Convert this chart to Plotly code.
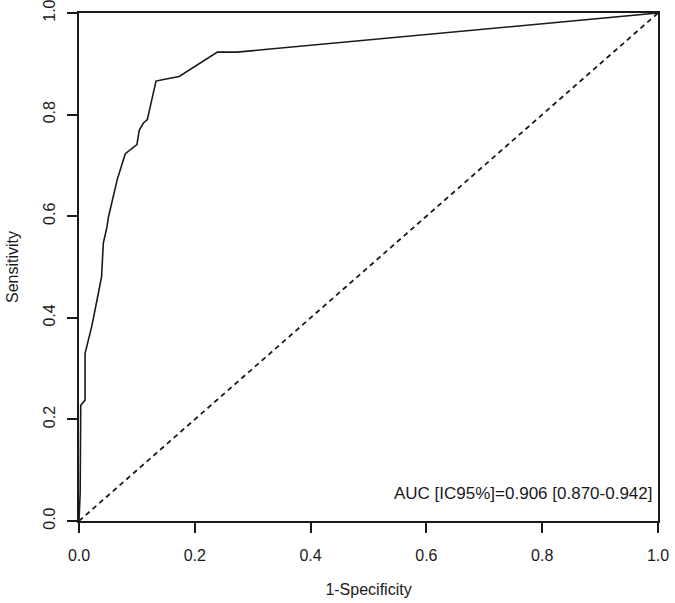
import plotly.graph_objects as go

# ROC curve points (1-Specificity, Sensitivity)
fpr = [0.0, 0.002, 0.003, 0.006, 0.0105, 0.0105, 0.022, 0.032, 0.039, 0.042, 0.048,
       0.051, 0.061, 0.066, 0.080, 0.100, 0.104, 0.111, 0.118, 0.133, 0.146,
       0.173, 0.239, 0.273, 1.0]
tpr = [0.0, 0.055, 0.228, 0.233, 0.238, 0.330, 0.383, 0.440, 0.481, 0.547, 0.577,
       0.599, 0.647, 0.672, 0.723, 0.741, 0.769, 0.783, 0.790, 0.866, 0.869,
       0.875, 0.923, 0.923, 1.0]
diag_x = [0.0, 1.0]
diag_y = [0.0, 1.0]
tick_vals = [0.0, 0.2, 0.4, 0.6, 0.8, 1.0]
tick_text = ["0.0", "0.2", "0.4", "0.6", "0.8", "1.0"]
auc_label = "AUC [IC95%]=0.906 [0.870-0.942]"

ink = "#1a1a1a"
font = "Liberation Sans, Arial, sans-serif"

fig = go.Figure()
fig.add_trace(go.Scatter(x=diag_x, y=diag_y, mode="lines",
                         line=dict(color=ink, width=1.8, dash="5px,4px"),
                         showlegend=False, hoverinfo="skip"))
fig.add_trace(go.Scatter(x=fpr, y=tpr, mode="lines",
                         line=dict(color=ink, width=1.6),
                         showlegend=False))

fig.add_annotation(x=0.993, y=0.055, xref="x", yref="y", text=auc_label,
                   showarrow=False, xanchor="right", yanchor="middle",
                   font=dict(family=font, size=17, color=ink))

axis_common = dict(range=[0, 1], tickvals=tick_vals, ticktext=tick_text,
                   showline=True, linecolor=ink, linewidth=1.5, mirror=True,
                   ticks="outside", ticklen=10, tickwidth=1.5, tickcolor=ink,
                   showgrid=False, zeroline=False, ticklabeloverflow="allow",
                   tickfont=dict(family=font, size=16, color=ink))

fig.update_xaxes(**axis_common, ticklabelstandoff=9,
                 title=dict(text="1-Specificity", standoff=21,
                            font=dict(family=font, size=16, color=ink)))
fig.update_yaxes(**axis_common, tickangle=-90, ticklabelstandoff=6,
                 title=dict(text="Sensitivity", standoff=18,
                            font=dict(family=font, size=16, color=ink)))

fig.update_layout(width=675, height=603,
                  margin=dict(l=79, r=17, t=13, b=82, autoexpand=False),
                  plot_bgcolor="white", paper_bgcolor="white")

fig.write_html("out.html", config={"displayModeBar": False},
               post_script="document.body.style.margin='0';document.body.style.padding='0';")
